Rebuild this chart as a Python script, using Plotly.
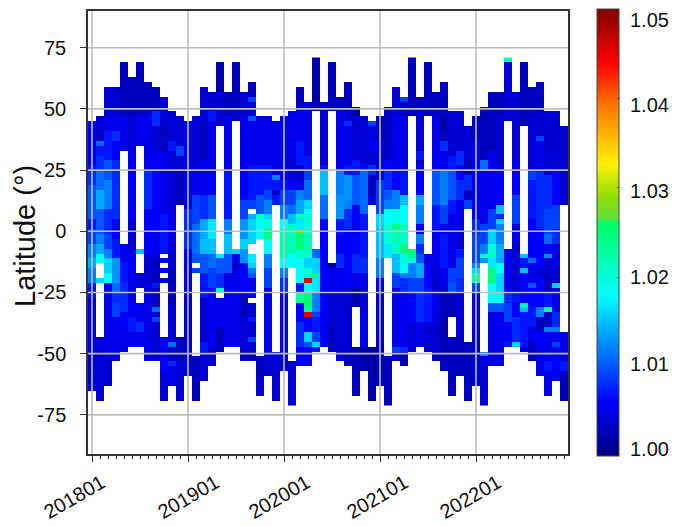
import numpy as np
import plotly.graph_objects as go

# Each month: (upper latitude edge of a run, value); None marks a gap; last entry closes the column.
m201801 = [(45,1.006),(27,1.007),(25,1.008),(19,1.010),(5,1.007),(1,1.009),(-5,1.012),(-11,1.014),(-15,1.012),(-21,1.007),(-27,1.005),(-51,1.004),(-65,None)]
m201802 = [(47,1.004),(41,1.003),(37,1.011),(35,1.007),(31,1.008),(25,1.011),(17,1.014),(9,1.010),(-1,1.012),(-5,1.014),(-9,1.018),(-13,None),(-19,1.016),(-21,None),(-43,1.004),(-69,None)]
m201803 = [(59,1.004),(47,1.005),(41,1.007),(29,1.010),(21,1.012),(9,1.008),(-1,1.009),(-7,1.012),(-11,1.016),(-17,1.018),(-21,1.006),(-27,1.005),(-51,1.004),(-63,None)]
m201804 = [(59,1.004),(47,1.005),(41,1.008),(37,1.006),(29,1.008),(5,1.006),(-3,1.007),(-11,1.013),(-21,1.011),(-25,1.008),(-29,1.009),(-35,1.005),(-53,None)]
m201805 = [(69,1.003),(47,1.005),(33,None),(-5,1.005),(-13,1.007),(-21,1.008),(-33,1.006),(-39,1.005),(-49,None)]
m201806 = [(63,1.003),(47,1.004),(33,1.006),(5,1.004),(-9,1.006),(-19,1.005),(-27,1.006),(-35,1.007),(-41,1.005),(-47,None)]
m201807 = [(69,1.003),(47,1.005),(35,None),(-7,1.015),(-9,None),(-17,1.004),(-23,None),(-29,1.005),(-37,1.008),(-41,1.005),(-47,None)]
m201808 = [(61,1.003),(47,1.005),(25,1.008),(9,1.006),(-9,1.004),(-21,1.005),(-53,None)]
m201809 = [(59,1.003),(49,1.008),(43,1.004),(33,1.006),(1,1.005),(-11,1.003),(-21,1.007),(-23,1.003),(-31,1.011),(-33,1.004),(-35,1.009),(-37,1.004),(-53,None)]
m201810 = [(55,1.004),(43,1.003),(33,1.005),(7,1.007),(-9,None),(-11,1.006),(-13,None),(-15,1.006),(-17,None),(-19,1.006),(-21,None),(-43,1.006),(-51,1.005),(-53,1.006),(-57,1.004),(-69,None)]
m201811 = [(49,1.004),(37,1.007),(33,1.004),(9,1.005),(-5,1.004),(-15,1.003),(-29,1.004),(-45,1.011),(-47,1.004),(-53,1.008),(-55,1.005),(-63,None)]
m201812 = [(47,1.004),(35,1.009),(31,1.004),(25,1.003),(11,None),(-43,1.003),(-53,1.004),(-69,None)]
m201901 = [(45,1.005),(9,1.008),(-7,1.006),(-13,1.005),(-27,1.004),(-59,None)]
m201902 = [(47,1.004),(25,1.005),(15,1.009),(3,1.011),(-9,1.010),(-13,None),(-15,1.009),(-17,None),(-51,1.003),(-69,None)]
m201903 = [(59,1.004),(45,1.003),(29,1.005),(15,1.008),(5,1.014),(-3,1.015),(-9,1.010),(-17,1.007),(-27,1.004),(-45,1.007),(-49,1.004),(-61,None)]
m201904 = [(57,1.004),(49,1.007),(45,1.005),(25,1.006),(15,1.010),(5,1.017),(-3,1.015),(-9,1.011),(-15,1.009),(-23,1.006),(-27,1.005),(-47,1.004),(-55,None)]
m201905 = [(69,1.002),(57,1.004),(43,None),(-9,1.017),(-11,1.010),(-17,1.008),(-23,1.021),(-25,None),(-27,1.005),(-39,1.003),(-49,None)]
m201906 = [(57,1.003),(47,1.005),(25,1.007),(5,1.012),(-1,1.015),(-9,1.010),(-17,1.005),(-47,None)]
m201907 = [(69,1.003),(47,1.004),(45,None),(-7,1.016),(-9,1.005),(-13,1.003),(-15,1.005),(-47,None)]
m201908 = [(57,1.004),(47,1.005),(25,1.006),(13,1.009),(5,1.013),(-3,1.016),(-7,1.013),(-13,1.006),(-25,1.003),(-35,1.004),(-53,None)]
m201909 = [(61,1.003),(55,1.009),(53,1.004),(47,1.010),(45,1.005),(27,1.007),(13,1.009),(9,None),(7,1.014),(5,1.016),(-5,None),(-9,1.017),(-13,1.016),(-15,1.012),(-17,1.010),(-19,1.005),(-27,None),(-29,1.004),(-35,1.007),(-37,1.004),(-43,1.009),(-45,1.004),(-51,1.002),(-53,None)]
m201910 = [(47,1.005),(27,1.007),(15,1.010),(7,1.021),(5,1.018),(-3,None),(-51,1.003),(-57,1.002),(-59,1.004),(-67,None)]
m201911 = [(47,1.005),(27,1.007),(17,1.009),(13,1.012),(7,1.016),(5,1.020),(1,1.024),(-3,1.018),(-9,1.012),(-15,1.009),(-23,1.005),(-51,1.004),(-59,None)]
m201912 = [(45,1.005),(23,1.012),(21,1.007),(17,1.004),(15,1.007),(11,None),(-49,1.005),(-53,1.004),(-69,None)]
m202001 = [(47,1.005),(25,1.006),(21,1.007),(17,1.009),(11,1.012),(5,1.018),(1,1.022),(-11,1.018),(-15,1.012),(-19,1.008),(-25,1.005),(-51,1.004),(-57,None)]
m202002 = [(49,1.005),(29,1.004),(21,1.006),(17,1.009),(11,1.011),(7,1.015),(3,1.021),(-1,1.022),(-9,1.018),(-15,None),(-53,1.004),(-71,None)]
m202003 = [(59,1.003),(49,1.005),(37,1.007),(27,1.004),(21,1.005),(17,1.012),(13,1.014),(7,1.021),(5,1.017),(1,1.0275),(-1,1.025),(-7,1.021),(-11,1.018),(-21,1.007),(-25,1.023),(-29,1.006),(-37,1.008),(-47,1.006),(-55,None)]
m202004 = [(53,1.004),(49,1.005),(31,1.007),(25,1.009),(21,1.011),(13,1.016),(9,1.018),(7,1.020),(-1,1.022),(-9,1.020),(-11,1.016),(-15,1.020),(-19,1.045),(-21,1.018),(-25,1.024),(-27,1.026),(-31,1.022),(-33,1.045),(-35,1.006),(-41,1.016),(-45,1.010),(-47,1.006),(-55,None)]
m202005 = [(71,1.002),(49,None),(-7,1.011),(-11,1.016),(-17,1.024),(-19,1.017),(-25,1.012),(-33,1.009),(-35,1.007),(-41,1.009),(-45,1.016),(-47,1.007),(-49,None)]
m202006 = [(53,1.003),(49,1.004),(27,1.007),(25,1.015),(15,1.011),(5,1.006),(-47,None)]
m202007 = [(69,1.003),(49,None),(-13,1.001),(-15,1.005),(-25,1.004),(-37,1.003),(-49,None)]
m202008 = [(55,1.003),(49,1.005),(25,1.012),(15,1.013),(5,1.007),(-1,1.006),(-9,1.008),(-15,1.005),(-25,1.004),(-49,1.005),(-53,None)]
m202009 = [(61,1.003),(49,1.004),(45,1.008),(43,1.005),(27,1.007),(23,1.013),(13,1.012),(9,1.008),(1,1.006),(-23,1.004),(-49,1.003),(-55,None)]
m202010 = [(51,1.002),(47,1.004),(29,1.007),(23,1.010),(11,1.006),(3,1.005),(-1,1.006),(-9,1.008),(-17,1.005),(-23,1.002),(-31,None),(-47,1.003),(-67,None)]
m202011 = [(47,1.004),(27,1.006),(25,1.011),(7,1.007),(-11,1.008),(-17,1.005),(-23,1.004),(-31,1.005),(-47,1.002),(-57,None)]
m202012 = [(45,1.009),(43,1.005),(33,1.004),(27,1.008),(23,1.003),(15,1.004),(11,None),(-47,1.002),(-69,None)]
m202101 = [(47,1.003),(37,1.006),(33,1.004),(21,1.009),(7,1.016),(1,1.015),(-11,1.012),(-19,1.006),(-23,1.004),(-47,1.003),(-63,None)]
m202102 = [(51,1.003),(29,1.006),(25,1.008),(17,1.010),(13,1.012),(9,1.018),(3,1.020),(-5,1.017),(-11,None),(-51,1.003),(-71,None)]
m202103 = [(59,1.004),(47,1.005),(25,1.006),(17,1.012),(9,1.019),(3,1.024),(1,1.022),(-5,1.021),(-9,1.015),(-17,1.009),(-23,1.005),(-47,1.009),(-49,1.004),(-53,None)]
m202104 = [(55,1.009),(53,1.003),(47,1.005),(25,1.007),(15,1.015),(11,1.018),(3,1.021),(-5,1.024),(-9,1.020),(-13,1.018),(-17,1.012),(-19,1.008),(-25,1.005),(-47,1.008),(-49,1.003),(-55,None)]
m202105 = [(71,1.003),(47,None),(-7,1.025),(-11,1.020),(-13,1.012),(-19,1.009),(-25,1.006),(-37,1.004),(-49,None)]
m202106 = [(55,1.003),(49,1.004),(33,1.007),(29,1.004),(27,1.006),(15,1.014),(11,1.012),(3,1.006),(1,1.004),(-1,1.012),(-5,1.008),(-9,1.010),(-13,1.014),(-19,1.009),(-25,1.008),(-37,1.005),(-47,None)]
m202107 = [(69,1.003),(47,None),(-9,1.005),(-13,1.006),(-23,1.007),(-37,1.004),(-49,None)]
m202108 = [(57,1.003),(47,1.005),(25,1.010),(11,1.007),(1,1.005),(-13,1.004),(-25,1.005),(-37,1.004),(-53,None)]
m202109 = [(61,1.003),(47,1.002),(41,1.003),(37,1.008),(33,1.005),(25,1.012),(11,1.009),(3,1.005),(-1,1.007),(-15,1.005),(-23,1.003),(-35,1.002),(-43,1.003),(-57,None)]
m202110 = [(49,1.004),(31,1.007),(25,1.010),(13,1.007),(7,1.005),(-15,1.009),(-21,1.010),(-25,1.003),(-35,None),(-43,1.003),(-67,None)]
m202111 = [(49,1.004),(33,1.008),(27,1.006),(21,1.008),(13,1.005),(1,1.004),(-7,1.007),(-11,1.009),(-19,1.008),(-25,1.004),(-43,1.003),(-59,None)]
m202112 = [(43,1.004),(29,1.003),(23,1.008),(17,1.003),(13,1.009),(9,None),(-45,1.003),(-69,None)]
m202201 = [(47,1.003),(37,1.005),(29,1.006),(5,1.008),(-1,1.009),(-13,1.012),(-15,1.016),(-17,1.022),(-21,1.009),(-25,1.005),(-41,1.004),(-63,None)]
m202202 = [(51,1.003),(29,1.011),(25,1.005),(3,1.009),(-5,1.012),(-9,1.021),(-11,1.013),(-13,None),(-49,1.011),(-51,1.004),(-71,None)]
m202203 = [(57,1.003),(33,1.005),(9,1.009),(1,1.016),(-5,1.020),(-7,1.021),(-11,1.017),(-15,1.024),(-19,1.025),(-21,1.018),(-29,1.010),(-33,1.005),(-55,None)]
m202204 = [(57,1.003),(47,1.004),(27,1.006),(11,1.015),(7,1.008),(5,1.016),(3,1.012),(-5,1.014),(-13,1.018),(-17,1.016),(-25,1.018),(-29,1.010),(-33,1.005),(-55,None)]
m202205 = [(71,1.022),(69,1.004),(45,None),(-7,1.005),(-25,1.008),(-29,1.009),(-37,1.006),(-45,1.007),(-47,None)]
m202206 = [(57,1.004),(29,1.006),(15,1.009),(3,1.005),(-5,1.004),(-25,1.007),(-29,1.006),(-35,1.008),(-45,1.016),(-47,None)]
m202207 = [(69,1.003),(43,None),(-9,1.015),(-11,1.007),(-15,1.015),(-17,1.006),(-29,1.022),(-31,1.015),(-33,1.007),(-47,1.005),(-49,None)]
m202208 = [(59,1.003),(47,1.004),(25,1.009),(21,1.007),(5,1.006),(-11,1.011),(-13,1.005),(-21,1.010),(-23,1.006),(-31,1.007),(-39,1.005),(-45,1.003),(-53,None)]
m202209 = [(61,1.003),(49,1.004),(39,1.009),(37,1.005),(25,1.008),(1,1.006),(-15,1.004),(-19,1.006),(-31,1.012),(-35,1.003),(-41,1.006),(-47,1.005),(-59,None)]
m202210 = [(49,1.004),(23,1.008),(9,1.009),(-1,1.011),(-5,1.006),(-9,1.013),(-11,1.004),(-17,1.003),(-25,1.007),(-31,1.022),(-33,1.003),(-39,1.012),(-41,1.005),(-53,1.007),(-57,1.005),(-67,None)]
m202211 = [(49,1.004),(25,1.006),(11,1.009),(1,1.008),(-5,1.005),(-15,1.004),(-21,1.016),(-23,1.005),(-33,1.008),(-39,1.012),(-41,1.005),(-45,1.009),(-47,1.005),(-51,1.006),(-61,None)]
m202212 = [(43,1.004),(11,None),(-41,1.005),(-53,1.007),(-57,1.003),(-69,None)]

columns = [
    m201801,m201802,m201803,m201804,m201805,m201806,m201807,m201808,m201809,m201810,m201811,m201812,
    m201901,m201902,m201903,m201904,m201905,m201906,m201907,m201908,m201909,m201910,m201911,m201912,
    m202001,m202002,m202003,m202004,m202005,m202006,m202007,m202008,m202009,m202010,m202011,m202012,
    m202101,m202102,m202103,m202104,m202105,m202106,m202107,m202108,m202109,m202110,m202111,m202112,
    m202201,m202202,m202203,m202204,m202205,m202206,m202207,m202208,m202209,m202210,m202211,m202212,
]
year_ticks = [0, 12, 24, 36, 48]
year_labels = ["201801", "201901", "202001", "202101", "202201"]
lat_ticks = [75, 50, 25, 0, -25, -50, -75]
lat_labels = ["75", "50", "25", "0", "-25", "-50", "-75"]
cbar_labels = ["1.05", "1.04", "1.03", "1.02", "1.01", "1.00"]

lats = np.arange(70, -71, -2)
z = np.full((len(lats), len(columns)), np.nan)
for j, col in enumerate(columns):
    for (top, val), (bot, _) in zip(col[:-1], col[1:]):
        if val is None:
            continue
        z[(lats < top) & (lats > bot), j] = val

# plot box in page pixels, less the 8 px page margin
PAGE = 8
L, R, T, B = 88 - PAGE, 568 - PAGE, 11 - PAGE, 454 - PAGE
W, H = 669, 518
jet = [[0, "#000080"], [0.12, "#0000FF"], [0.24, "#0080FF"], [0.36, "#00FFFF"], [0.49, "#00FF80"], [0.522, "#00FF60"],
       [0.53, "#60E040"], [0.58, "#90DD00"], [0.655, "#FFF000"], [0.79, "#FF7000"], [0.88, "#FF0000"], [1, "#800000"]]

fig = go.Figure(go.Heatmap(
    x=list(range(len(columns))), y=lats, z=z, zmin=1.0, zmax=1.05, colorscale=jet,
    hoverongaps=False,
    colorbar=dict(thickness=22, len=1.01, x=(597 - PAGE - L) / (R - L), xanchor="left", y=0.5, yanchor="middle",
                  ypad=0, xpad=0, outlinecolor="#444", outlinewidth=1, tickvals=[1.0, 1.01, 1.02, 1.03, 1.04, 1.05],
                  showticklabels=False, ticks="inside", ticklen=2, tickcolor="#444"),
))
shapes = []
for v in year_ticks:
    shapes.append(dict(type="line", xref="x", yref="paper", x0=v, x1=v, y0=0, y1=1, layer="above",
                       line=dict(color="rgb(190,190,190)", width=1.6)))
for v in lat_ticks:
    shapes.append(dict(type="line", xref="paper", yref="y", x0=0, x1=1, y0=v, y1=v, layer="above",
                       line=dict(color="rgb(190,190,190)", width=1.6)))
ann = []
for txt, py in zip(cbar_labels, [20, 105, 191, 277, 364, 449]):
    ann.append(dict(text=txt, xref="paper", yref="paper", x=(628 - PAGE - L) / (R - L), y=(B - (py - PAGE)) / (B - T),
                    xanchor="left", yanchor="middle", showarrow=False, font=dict(size=20)))
for txt, px in zip(year_labels, [74, 188, 279, 377, 470]):
    ann.append(dict(text=txt, xref="paper", yref="paper", x=(px - PAGE - L) / (R - L), y=(B - (497 - PAGE)) / (B - T),
                    xanchor="center", yanchor="middle", showarrow=False, textangle=-30, font=dict(size=20)))
ann.append(dict(text="Latitude (°)", xref="paper", yref="paper", x=(25 - PAGE - L) / (R - L), y=(B - (236 - PAGE)) / (B - T),
                xanchor="center", yanchor="middle", showarrow=False, textangle=-90, font=dict(size=29)))

fig.update_layout(
    width=W, height=H, autosize=False, paper_bgcolor="white", plot_bgcolor="white",
    margin=dict(l=L, r=W - R, t=T, b=H - B, pad=0, autoexpand=False),
    font=dict(family="Liberation Sans, Arial, sans-serif", color="#111"),
    shapes=shapes, annotations=ann,
    xaxis=dict(range=[-0.5, 59.5], tickvals=year_ticks, ticktext=year_labels, showticklabels=False, ticks="outside",
               ticklen=6, tickcolor="#333", showgrid=False, zeroline=False, showline=True, linecolor="#333",
               linewidth=1.5, mirror=True, automargin=False,
               minor=dict(dtick=1, tick0=0, ticks="outside", ticklen=3, tickcolor="#333", showgrid=False)),
    yaxis=dict(range=[-91, 90], tickvals=lat_ticks, ticktext=lat_labels, ticks="outside", ticklen=6, tickcolor="#333",
               ticklabelstandoff=10, tickfont=dict(size=20), showgrid=False, zeroline=False, showline=True,
               linecolor="#333", linewidth=1.5, mirror=True, automargin=False),
)
fig.write_html("out.html")
